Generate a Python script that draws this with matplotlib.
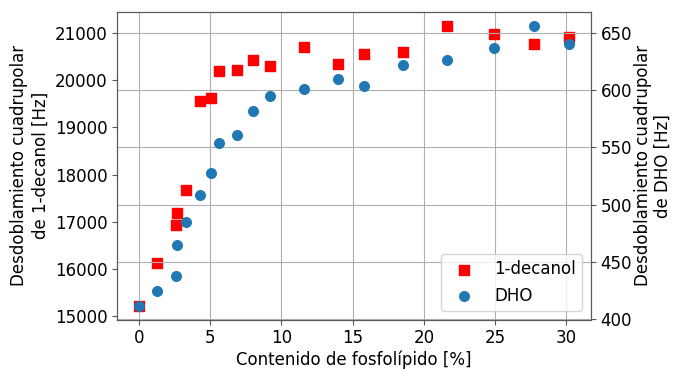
import matplotlib
matplotlib.use("Agg")
import matplotlib.pyplot as plt

phospholipid = [0.0, 1.3, 2.6, 2.7, 3.3, 4.3, 5.05, 5.65, 6.9, 8.0, 9.2,
                11.6, 14.0, 15.8, 18.55, 21.6, 24.95, 27.7, 30.2]
decanol_hz = [15226, 16141, 16931, 17191, 17677, 19557, 19627, 20192, 20213,
              20424, 20303, 20699, 20346, 20566, 20608, 21149, 20980, 20769, 20916]
dho_hz = [411.6, 424.5, 437.2, 464.6, 484.6, 508.2, 527.9, 554.1, 560.5,
          582.0, 594.5, 600.9, 609.4, 603.5, 622.1, 626.2, 636.9, 656.1, 640.4]

plt.rcParams['font.size'] = 12
fig = plt.figure(figsize=(6.73, 3.69), dpi=100)
ax = fig.add_axes([117.3/673, 1-319.7/369, (590.7-117.3)/673, (319.7-12)/369])
ax2 = ax.twinx()

h1 = ax.scatter(phospholipid, decanol_hz, marker='s', color='red', s=50, label='1-decanol', zorder=3)
h2 = ax2.scatter(phospholipid, dho_hz, marker='o', color='#1f77b4', s=48, label='DHO', zorder=3)

ax.set_xlabel('Contenido de fosfolípido [%]', labelpad=2)
ax.set_ylabel('Desdoblamiento cuadrupolar\nde 1-decanol [Hz]')
ax2.set_ylabel('Desdoblamiento cuadrupolar\nde DHO [Hz]', labelpad=1.5, linespacing=1.1)

ax.set_xticks([0, 5, 10, 15, 20, 25, 30])
ax.set_yticks([15000, 16000, 17000, 18000, 19000, 20000, 21000])
ax2.set_yticks([400, 450, 500, 550, 600, 650])

ax.xaxis.grid(True, color='#b0b0b0')
ax2.yaxis.grid(True, color='#b0b0b0')
ax.set_axisbelow(True)
ax2.set_axisbelow(True)

for a in (ax, ax2):
    for s in a.spines.values():
        s.set_color('0.35')
    a.tick_params(color='0.35')

ax2.legend([h1, h2], ['1-decanol', 'DHO'], loc='lower right')

fig.savefig('out.png', dpi=100)
